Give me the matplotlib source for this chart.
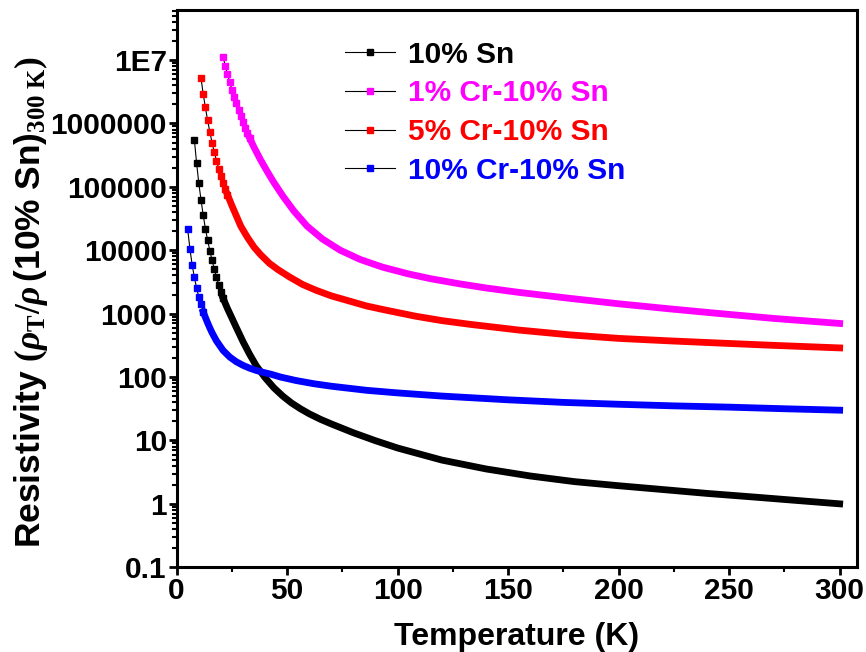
import numpy as np
import matplotlib
matplotlib.use("Agg")
import matplotlib.pyplot as plt
from matplotlib.ticker import FixedLocator, FixedFormatter, LogLocator, NullFormatter, MultipleLocator

plt.rcParams['font.family'] = ['Liberation Sans', 'DejaVu Sans']
plt.rcParams['font.weight'] = 'bold'
plt.rcParams['mathtext.fontset'] = 'custom'
plt.rcParams['mathtext.rm'] = 'Liberation Serif'
plt.rcParams['mathtext.it'] = 'Liberation Serif:italic'
plt.rcParams['mathtext.bf'] = 'Liberation Sans:bold'

# 10% Sn  (separate markers, 1 K steps, then the dense band)
sn_t_early = [8, 9, 10, 11, 12, 13, 14, 15, 16, 17, 18, 19, 20, 21]
sn_v_early = [5.57e5, 2.41e5, 1.15e5, 6.3e4, 3.6e4, 2.2e4, 1.44e4, 9.9e3, 6.97e3,
              5.09e3, 3.75e3, 2.84e3, 2.17e3, 1.75e3]
sn_t_late = [21, 23, 25, 27, 30, 33, 36, 40, 44, 48, 52, 56, 60, 65, 70, 80, 90, 100,
             120, 140, 160, 180, 200, 220, 240, 260, 280, 300]
sn_v_late = [1750, 1200, 851, 603, 363, 229, 151, 97.7, 67.6, 50.1, 38.9, 31.6, 26.3,
             21.6, 18.2, 13.2, 9.89, 7.59, 4.90, 3.55, 2.75, 2.24, 1.93, 1.68, 1.46,
             1.29, 1.135, 1.0]

# 1% Cr-10% Sn
cr1_t_early = [21, 22, 23, 24, 25, 26, 27, 28, 29, 30, 31, 32, 33]
cr1_v_early = [1.13e7, 8.1e6, 6.0e6, 4.5e6, 3.4e6, 2.63e6, 2.07e6, 1.62e6, 1.30e6,
               1.06e6, 8.6e5, 7.1e5, 5.9e5]
cr1_t_late = [33, 35, 38, 41, 44, 48, 53, 59, 66, 74, 83, 93, 105, 115, 128, 140, 155,
              178, 200, 223, 246, 270, 300]
cr1_v_late = [5.9e5, 4.2e5, 2.65e5, 1.74e5, 1.17e5, 7.2e4, 4.17e4, 2.4e4, 1.5e4, 1.0e4,
              7.16e3, 5.43e3, 4.22e3, 3.55e3, 2.95e3, 2.54e3, 2.16e3, 1.74e3, 1.43e3,
              1.19e3, 1.0e3, 841, 700]

# 5% Cr-10% Sn
cr5_t_early = [11, 12, 13, 14, 15, 16, 17, 18, 19, 20, 21, 22, 23]
cr5_v_early = [5.25e6, 2.93e6, 1.79e6, 1.12e6, 7.4e5, 5.0e5, 3.55e5, 2.6e5, 1.94e5,
               1.48e5, 1.16e5, 9.4e4, 7.5e4]
cr5_t_late = [23, 25, 29, 32, 35, 38, 42, 46, 51, 57, 63, 70, 78, 86, 94, 108, 120, 133,
              155, 178, 200, 223, 246, 270, 300]
cr5_v_late = [7.5e4, 5.05e4, 2.4e4, 1.6e4, 1.12e4, 8.5e3, 6.2e3, 4.9e3, 3.8e3, 2.88e3,
              2.34e3, 1.905e3, 1.585e3, 1.318e3, 1.148e3, 912, 776, 676, 550, 462, 407,
              372, 343, 316, 288]

# 10% Cr-10% Sn
cr10_t_early = [5, 6, 7, 8, 9, 10, 11, 12]
cr10_v_early = [2.13e4, 1.05e4, 5.9e3, 3.75e3, 2.55e3, 1.84e3, 1.4e3, 1.07e3]
cr10_t_late = [12, 13, 14, 15, 16, 18, 21, 24, 27, 30, 33, 36, 39, 43, 47, 54, 62, 70,
               86, 100, 120, 150, 175, 200, 225, 250, 275, 300]
cr10_v_late = [1070, 871, 716, 596, 501, 372, 263, 207, 174, 153, 138, 127, 119, 110,
               100, 88.1, 78.5, 71.6, 61.7, 56.2, 50.1, 43.7, 39.8, 37.2, 35.1, 33.5,
               31.6, 30.0]

labels = ['10% Sn', '1% Cr-10% Sn', '5% Cr-10% Sn', '10% Cr-10% Sn']
colors = ['#000000', '#ff00ff', '#ff0000', '#0000ff']

ytick_vals = [0.1, 1, 10, 100, 1000, 10000, 100000, 1000000, 1e7]
ytick_labels = ['0.1', '1', '10', '100', '1000', '10000', '100000', '1000000', '1E7']


def main():
    fig = plt.figure(figsize=(8.66, 6.52), dpi=100)
    ax = fig.add_axes([0.204, 0.130, 0.786, 0.855])

    series = [
        (sn_t_early, sn_v_early, sn_t_late, sn_v_late),
        (cr1_t_early, cr1_v_early, cr1_t_late, cr1_v_late),
        (cr5_t_early, cr5_v_early, cr5_t_late, cr5_v_late),
        (cr10_t_early, cr10_v_early, cr10_t_late, cr10_v_late),
    ]
    for (te, ve, tl, vl), lab, c in zip(series, labels, colors):
        # dense part: markers overlap into a solid band
        ax.plot(tl, vl, '-', color=c, lw=4.9, solid_capstyle='projecting',
                solid_joinstyle='round', label='_nolegend_')
        ax.plot(te, ve, '-', color='k', lw=0.8, marker='s', ms=4.8,
                mfc=c, mec=c, label=lab)

    ax.set_yscale('log')
    ax.set_xlim(0, 308)
    ax.set_ylim(0.1, 6.2e7)

    ax.xaxis.set_major_locator(MultipleLocator(50))
    ax.xaxis.set_minor_locator(MultipleLocator(25))
    ax.yaxis.set_major_locator(FixedLocator(ytick_vals))
    ax.yaxis.set_major_formatter(FixedFormatter(ytick_labels))
    ax.yaxis.set_minor_locator(LogLocator(base=10, subs=np.arange(2, 10)))
    ax.yaxis.set_minor_formatter(NullFormatter())

    for s in ax.spines.values():
        s.set_linewidth(2.2)
    ax.tick_params(which='major', direction='out', length=6, width=2,
                   labelsize=21.5, pad=1)
    ax.tick_params(which='minor', direction='out', length=3.5, width=1.5)
    for lbl in ax.get_xticklabels() + ax.get_yticklabels():
        lbl.set_fontweight('bold')

    ax.set_xlabel('Temperature (K)', fontsize=23, fontweight='bold', labelpad=12)
    ax.set_ylabel(r'Resistivity $\left(\rho_{\mathrm{T}}/\rho\,\mathbf{(10\%\ Sn)}_{\mathrm{300\ K}}\right)$',
                  fontsize=25.5, fontweight='bold')
    ax.yaxis.set_label_coords(-0.186, 0.476)

    leg = ax.legend(loc='upper left', bbox_to_anchor=(0.23, 0.966), frameon=False,
                    fontsize=21.5, handlelength=1.67, handletextpad=0.45,
                    labelspacing=0.36, numpoints=1, borderaxespad=0, markerscale=0.85)
    for txt, c in zip(leg.get_texts(), colors):
        txt.set_color(c)
        txt.set_fontweight('bold')

    fig.savefig('out.png', dpi=100)


if __name__ == '__main__':
    main()
